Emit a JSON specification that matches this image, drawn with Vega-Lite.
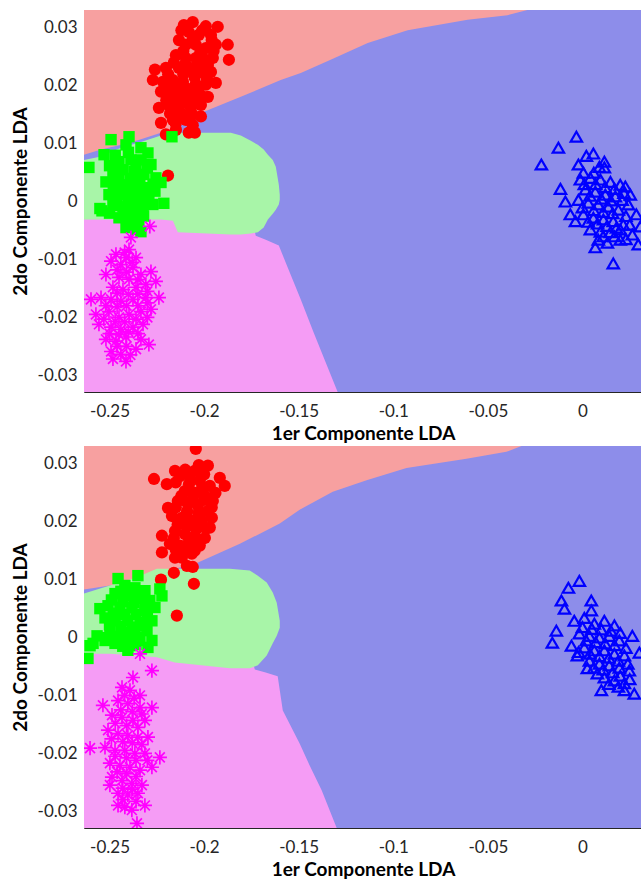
{
"$schema":"https://vega.github.io/schema/vega-lite/v6.json",
"padding":{"left":11,"top":10,"right":0,"bottom":0},
"background":"white",
"spacing":3,
"config":{"view":{"stroke":null},
"axis":{"domainColor":"#262626","tickColor":"#262626","labelColor":"#262626","titleColor":"#000000","labelFont":"Lato","titleFont":"Lato","labelFontSize":17,"titleFontSize":19,"titleFontWeight":"bold","grid":false,"tickSize":-5,"labelPadding":12},
"axisY":{"titlePadding":7},"axisX":{"titlePadding":5,"labelPadding":16}},
"datasets":{
"reg":[
{"p":1,"r":"b","x":-0.2635,"y":-0.0329,"y2":0.0331},{"p":1,"r":"b","x":0.0315,"y":-0.0329,"y2":0.0331},
{"p":2,"r":"b","x":-0.2635,"y":-0.0329,"y2":0.0331},{"p":2,"r":"b","x":0.0315,"y":-0.0329,"y2":0.0331},
{"p":1,"r":"r","x":-0.2635,"y":0.0081,"y2":0.0331},{"p":1,"r":"r","x":-0.2545,"y":0.0090,"y2":0.0331},{"p":1,"r":"r","x":-0.2387,"y":0.0102,"y2":0.0331},{"p":1,"r":"r","x":-0.2228,"y":0.0119,"y2":0.0331},{"p":1,"r":"r","x":-0.2149,"y":0.0128,"y2":0.0331},{"p":1,"r":"r","x":-0.2017,"y":0.0153,"y2":0.0331},{"p":1,"r":"r","x":-0.1806,"y":0.0181,"y2":0.0331},{"p":1,"r":"r","x":-0.1595,"y":0.0210,"y2":0.0331},{"p":1,"r":"r","x":-0.1489,"y":0.0222,"y2":0.0331},{"p":1,"r":"r","x":-0.1331,"y":0.0245,"y2":0.0331},{"p":1,"r":"r","x":-0.1135,"y":0.0274,"y2":0.0331},{"p":1,"r":"r","x":-0.0924,"y":0.0296,"y2":0.0331},{"p":1,"r":"r","x":-0.0607,"y":0.0314,"y2":0.0331},{"p":1,"r":"r","x":-0.0396,"y":0.0322,"y2":0.0331},{"p":1,"r":"r","x":-0.0291,"y":0.0331,"y2":0.0331},
{"p":1,"r":"m","x":-0.2635,"y":-0.0329,"y2":-0.0022},{"p":1,"r":"m","x":-0.1753,"y":-0.0329,"y2":-0.0022},{"p":1,"r":"m","x":-0.1727,"y":-0.0329,"y2":-0.0059},{"p":1,"r":"m","x":-0.1674,"y":-0.0329,"y2":-0.0066},{"p":1,"r":"m","x":-0.1605,"y":-0.0329,"y2":-0.0076},{"p":1,"r":"m","x":-0.1558,"y":-0.0329,"y2":-0.0114},{"p":1,"r":"m","x":-0.1489,"y":-0.0329,"y2":-0.0169},{"p":1,"r":"m","x":-0.1421,"y":-0.0329,"y2":-0.0226},{"p":1,"r":"m","x":-0.1357,"y":-0.0329,"y2":-0.0278},{"p":1,"r":"m","x":-0.1294,"y":-0.0329,"y2":-0.0329},
{"p":1,"r":"g","x":-0.2635,"y":-0.0031,"y2":0.0072},{"p":1,"r":"g","x":-0.2545,"y":-0.0031,"y2":0.0078},{"p":1,"r":"g","x":-0.2440,"y":-0.0031,"y2":0.0093},{"p":1,"r":"g","x":-0.2334,"y":-0.0031,"y2":0.0103},{"p":1,"r":"g","x":-0.2228,"y":-0.0031,"y2":0.0114},{"p":1,"r":"g","x":-0.2165,"y":-0.0033,"y2":0.0119},{"p":1,"r":"g","x":-0.2139,"y":-0.0053,"y2":0.0119},{"p":1,"r":"g","x":-0.1859,"y":-0.0057,"y2":0.0119},{"p":1,"r":"g","x":-0.1806,"y":-0.0057,"y2":0.0114},{"p":1,"r":"g","x":-0.1753,"y":-0.0055,"y2":0.0105},{"p":1,"r":"g","x":-0.1716,"y":-0.0053,"y2":0.0098},{"p":1,"r":"g","x":-0.1685,"y":-0.0045,"y2":0.0090},{"p":1,"r":"g","x":-0.1663,"y":-0.0031,"y2":0.0081},{"p":1,"r":"g","x":-0.1637,"y":-0.0021,"y2":0.0072},{"p":1,"r":"g","x":-0.1621,"y":-0.0014,"y2":0.0060},{"p":1,"r":"g","x":-0.1605,"y":-0.0005,"y2":0.0029},{"p":1,"r":"g","x":-0.1600,"y":0.0003,"y2":0.0012},
{"p":2,"r":"r","x":-0.2635,"y":0.0083,"y2":0.0331},{"p":2,"r":"r","x":-0.2498,"y":0.0090,"y2":0.0331},{"p":2,"r":"r","x":-0.2339,"y":0.0098,"y2":0.0331},{"p":2,"r":"r","x":-0.2234,"y":0.0112,"y2":0.0331},{"p":2,"r":"r","x":-0.2038,"y":0.0129,"y2":0.0331},{"p":2,"r":"r","x":-0.1811,"y":0.0162,"y2":0.0331},{"p":2,"r":"r","x":-0.1600,"y":0.0197,"y2":0.0331},{"p":2,"r":"r","x":-0.1495,"y":0.0221,"y2":0.0331},{"p":2,"r":"r","x":-0.1320,"y":0.0252,"y2":0.0331},{"p":2,"r":"r","x":-0.1141,"y":0.0272,"y2":0.0331},{"p":2,"r":"r","x":-0.0930,"y":0.0293,"y2":0.0331},{"p":2,"r":"r","x":-0.0613,"y":0.0309,"y2":0.0331},{"p":2,"r":"r","x":-0.0402,"y":0.0321,"y2":0.0331},{"p":2,"r":"r","x":-0.0322,"y":0.0331,"y2":0.0331},
{"p":2,"r":"m","x":-0.2635,"y":-0.0329,"y2":-0.0022},{"p":2,"r":"m","x":-0.1759,"y":-0.0329,"y2":-0.0022},{"p":2,"r":"m","x":-0.1732,"y":-0.0329,"y2":-0.0055},{"p":2,"r":"m","x":-0.1679,"y":-0.0329,"y2":-0.0060},{"p":2,"r":"m","x":-0.1611,"y":-0.0329,"y2":-0.0067},{"p":2,"r":"m","x":-0.1584,"y":-0.0329,"y2":-0.0126},{"p":2,"r":"m","x":-0.1495,"y":-0.0329,"y2":-0.0183},{"p":2,"r":"m","x":-0.1442,"y":-0.0329,"y2":-0.0221},{"p":2,"r":"m","x":-0.1378,"y":-0.0329,"y2":-0.0264},{"p":2,"r":"m","x":-0.1299,"y":-0.0329,"y2":-0.0329},
{"p":2,"r":"g","x":-0.2635,"y":-0.0028,"y2":0.0076},{"p":2,"r":"g","x":-0.2498,"y":-0.0028,"y2":0.0090},{"p":2,"r":"g","x":-0.2366,"y":-0.0031,"y2":0.0103},{"p":2,"r":"g","x":-0.2250,"y":-0.0034,"y2":0.0119},{"p":2,"r":"g","x":-0.2155,"y":-0.0043,"y2":0.0119},{"p":2,"r":"g","x":-0.1864,"y":-0.0053,"y2":0.0119},{"p":2,"r":"g","x":-0.1759,"y":-0.0053,"y2":0.0116},{"p":2,"r":"g","x":-0.1716,"y":-0.0048,"y2":0.0107},{"p":2,"r":"g","x":-0.1669,"y":-0.0031,"y2":0.0095},{"p":2,"r":"g","x":-0.1637,"y":-0.0010,"y2":0.0078},{"p":2,"r":"g","x":-0.1616,"y":0.0003,"y2":0.0060},{"p":2,"r":"g","x":-0.1600,"y":0.0017,"y2":0.0029}
],
"pts":[
{"p":1,"g":"r","x":-0.2107,"y":0.0305},{"p":1,"g":"r","x":-0.2060,"y":0.0310},{"p":1,"g":"r","x":-0.1991,"y":0.0303},{"p":1,"g":"r","x":-0.1928,"y":0.0302},{"p":1,"g":"r","x":-0.2081,"y":0.0293},{"p":1,"g":"r","x":-0.2028,"y":0.0288},{"p":1,"g":"r","x":-0.1964,"y":0.0288},{"p":1,"g":"r","x":-0.2133,"y":0.0279},{"p":1,"g":"r","x":-0.1875,"y":0.0271},{"p":1,"g":"r","x":-0.2096,"y":0.0271},{"p":1,"g":"r","x":-0.2044,"y":0.0271},{"p":1,"g":"r","x":-0.1991,"y":0.0265},{"p":1,"g":"r","x":-0.1938,"y":0.0271},{"p":1,"g":"r","x":-0.1869,"y":0.0245},{"p":1,"g":"r","x":-0.2149,"y":0.0253},{"p":1,"g":"r","x":-0.2096,"y":0.0248},{"p":1,"g":"r","x":-0.2044,"y":0.0248},{"p":1,"g":"r","x":-0.1991,"y":0.0245},{"p":1,"g":"r","x":-0.1954,"y":0.0248},{"p":1,"g":"r","x":-0.2260,"y":0.0228},{"p":1,"g":"r","x":-0.2202,"y":0.0231},{"p":1,"g":"r","x":-0.2133,"y":0.0231},{"p":1,"g":"r","x":-0.2070,"y":0.0228},{"p":1,"g":"r","x":-0.2017,"y":0.0224},{"p":1,"g":"r","x":-0.1964,"y":0.0224},{"p":1,"g":"r","x":-0.2271,"y":0.0210},{"p":1,"g":"r","x":-0.2218,"y":0.0207},{"p":1,"g":"r","x":-0.2165,"y":0.0210},{"p":1,"g":"r","x":-0.2112,"y":0.0207},{"p":1,"g":"r","x":-0.2044,"y":0.0203},{"p":1,"g":"r","x":-0.1991,"y":0.0202},{"p":1,"g":"r","x":-0.1938,"y":0.0205},{"p":1,"g":"r","x":-0.2228,"y":0.0190},{"p":1,"g":"r","x":-0.2176,"y":0.0184},{"p":1,"g":"r","x":-0.2123,"y":0.0188},{"p":1,"g":"r","x":-0.2070,"y":0.0184},{"p":1,"g":"r","x":-0.2017,"y":0.0183},{"p":1,"g":"r","x":-0.1980,"y":0.0181},{"p":1,"g":"r","x":-0.2239,"y":0.0162},{"p":1,"g":"r","x":-0.2186,"y":0.0166},{"p":1,"g":"r","x":-0.2133,"y":0.0162},{"p":1,"g":"r","x":-0.2070,"y":0.0162},{"p":1,"g":"r","x":-0.2017,"y":0.0167},{"p":1,"g":"r","x":-0.2017,"y":0.0147},{"p":1,"g":"r","x":-0.2228,"y":0.0136},{"p":1,"g":"r","x":-0.2165,"y":0.0141},{"p":1,"g":"r","x":-0.2096,"y":0.0141},{"p":1,"g":"r","x":-0.2202,"y":0.0116},{"p":1,"g":"r","x":-0.2149,"y":0.0124},{"p":1,"g":"r","x":-0.2081,"y":0.0119},{"p":1,"g":"r","x":-0.2049,"y":0.0119},{"p":1,"g":"r","x":-0.2191,"y":0.0045},
{"p":1,"g":"r","x":-0.2120,"y":0.0296},{"p":1,"g":"r","x":-0.2010,"y":0.0296},{"p":1,"g":"r","x":-0.1960,"y":0.0279},{"p":1,"g":"r","x":-0.2060,"y":0.0280},{"p":1,"g":"r","x":-0.2110,"y":0.0260},{"p":1,"g":"r","x":-0.2020,"y":0.0258},{"p":1,"g":"r","x":-0.1950,"y":0.0260},{"p":1,"g":"r","x":-0.2160,"y":0.0240},{"p":1,"g":"r","x":-0.2100,"y":0.0238},{"p":1,"g":"r","x":-0.2040,"y":0.0236},{"p":1,"g":"r","x":-0.1980,"y":0.0236},{"p":1,"g":"r","x":-0.2190,"y":0.0220},{"p":1,"g":"r","x":-0.2110,"y":0.0220},{"p":1,"g":"r","x":-0.2050,"y":0.0215},{"p":1,"g":"r","x":-0.1985,"y":0.0212},{"p":1,"g":"r","x":-0.2200,"y":0.0197},{"p":1,"g":"r","x":-0.2140,"y":0.0197},{"p":1,"g":"r","x":-0.2090,"y":0.0195},{"p":1,"g":"r","x":-0.2030,"y":0.0193},{"p":1,"g":"r","x":-0.2200,"y":0.0175},{"p":1,"g":"r","x":-0.2150,"y":0.0175},{"p":1,"g":"r","x":-0.2100,"y":0.0172},{"p":1,"g":"r","x":-0.2040,"y":0.0172},{"p":1,"g":"r","x":-0.2180,"y":0.0152},{"p":1,"g":"r","x":-0.2120,"y":0.0152},{"p":1,"g":"r","x":-0.2060,"y":0.0150},{"p":1,"g":"r","x":-0.2150,"y":0.0135},{"p":1,"g":"r","x":-0.2060,"y":0.0132},
{"p":1,"g":"g","x":-0.2609,"y":0.0059},{"p":1,"g":"g","x":-0.2529,"y":0.0081},{"p":1,"g":"g","x":-0.2492,"y":0.0107},{"p":1,"g":"g","x":-0.2397,"y":0.0112},{"p":1,"g":"g","x":-0.2413,"y":0.0098},{"p":1,"g":"g","x":-0.2170,"y":0.0112},{"p":1,"g":"g","x":-0.2334,"y":0.0093},{"p":1,"g":"g","x":-0.2297,"y":0.0084},{"p":1,"g":"g","x":-0.2450,"y":0.0069},{"p":1,"g":"g","x":-0.2387,"y":0.0072},{"p":1,"g":"g","x":-0.2334,"y":0.0072},{"p":1,"g":"g","x":-0.2281,"y":0.0064},{"p":1,"g":"g","x":-0.2482,"y":0.0052},{"p":1,"g":"g","x":-0.2429,"y":0.0055},{"p":1,"g":"g","x":-0.2371,"y":0.0052},{"p":1,"g":"g","x":-0.2318,"y":0.0047},{"p":1,"g":"g","x":-0.2255,"y":0.0041},{"p":1,"g":"g","x":-0.2228,"y":0.0033},{"p":1,"g":"g","x":-0.2519,"y":0.0034},{"p":1,"g":"g","x":-0.2466,"y":0.0033},{"p":1,"g":"g","x":-0.2413,"y":0.0029},{"p":1,"g":"g","x":-0.2360,"y":0.0029},{"p":1,"g":"g","x":-0.2308,"y":0.0024},{"p":1,"g":"g","x":-0.2503,"y":0.0012},{"p":1,"g":"g","x":-0.2450,"y":0.0012},{"p":1,"g":"g","x":-0.2397,"y":0.0010},{"p":1,"g":"g","x":-0.2345,"y":0.0007},{"p":1,"g":"g","x":-0.2292,"y":0.0012},{"p":1,"g":"g","x":-0.2213,"y":-0.0003},{"p":1,"g":"g","x":-0.2540,"y":-0.0016},{"p":1,"g":"g","x":-0.2482,"y":-0.0007},{"p":1,"g":"g","x":-0.2429,"y":-0.0009},{"p":1,"g":"g","x":-0.2376,"y":-0.0010},{"p":1,"g":"g","x":-0.2323,"y":-0.0014},{"p":1,"g":"g","x":-0.2271,"y":-0.0005},{"p":1,"g":"g","x":-0.2450,"y":-0.0028},{"p":1,"g":"g","x":-0.2397,"y":-0.0031},{"p":1,"g":"g","x":-0.2345,"y":-0.0034},{"p":1,"g":"g","x":-0.2360,"y":-0.0048},{"p":1,"g":"g","x":-0.2334,"y":-0.0052},{"p":1,"g":"g","x":-0.2413,"y":-0.0045},{"p":1,"g":"g","x":-0.2551,"y":-0.0012},
{"p":1,"g":"g","x":-0.2470,"y":0.0080},{"p":1,"g":"g","x":-0.2400,"y":0.0085},{"p":1,"g":"g","x":-0.2360,"y":0.0065},{"p":1,"g":"g","x":-0.2300,"y":0.0058},{"p":1,"g":"g","x":-0.2500,"y":0.0062},{"p":1,"g":"g","x":-0.2450,"y":0.0042},{"p":1,"g":"g","x":-0.2390,"y":0.0040},{"p":1,"g":"g","x":-0.2340,"y":0.0037},{"p":1,"g":"g","x":-0.2270,"y":0.0030},{"p":1,"g":"g","x":-0.2480,"y":0.0020},{"p":1,"g":"g","x":-0.2420,"y":0.0019},{"p":1,"g":"g","x":-0.2370,"y":0.0018},{"p":1,"g":"g","x":-0.2320,"y":0.0016},{"p":1,"g":"g","x":-0.2260,"y":0.0018},{"p":1,"g":"g","x":-0.2460,"y":0.0000},{"p":1,"g":"g","x":-0.2400,"y":-0.0001},{"p":1,"g":"g","x":-0.2350,"y":-0.0002},{"p":1,"g":"g","x":-0.2300,"y":0.0002},{"p":1,"g":"g","x":-0.2420,"y":-0.0020},{"p":1,"g":"g","x":-0.2370,"y":-0.0022},{"p":1,"g":"g","x":-0.2320,"y":-0.0025},{"p":1,"g":"g","x":-0.2380,"y":-0.0040},{"p":1,"g":"g","x":-0.2500,"y":-0.0020},
{"p":1,"g":"m","x":-0.2287,"y":-0.0043},{"p":1,"g":"m","x":-0.2387,"y":-0.0062},{"p":1,"g":"m","x":-0.2397,"y":-0.0083},{"p":1,"g":"m","x":-0.2466,"y":-0.0091},{"p":1,"g":"m","x":-0.2413,"y":-0.0097},{"p":1,"g":"m","x":-0.2360,"y":-0.0097},{"p":1,"g":"m","x":-0.2492,"y":-0.0103},{"p":1,"g":"m","x":-0.2440,"y":-0.0109},{"p":1,"g":"m","x":-0.2376,"y":-0.0114},{"p":1,"g":"m","x":-0.2519,"y":-0.0126},{"p":1,"g":"m","x":-0.2450,"y":-0.0131},{"p":1,"g":"m","x":-0.2397,"y":-0.0134},{"p":1,"g":"m","x":-0.2334,"y":-0.0126},{"p":1,"g":"m","x":-0.2281,"y":-0.0121},{"p":1,"g":"m","x":-0.2482,"y":-0.0148},{"p":1,"g":"m","x":-0.2429,"y":-0.0152},{"p":1,"g":"m","x":-0.2360,"y":-0.0148},{"p":1,"g":"m","x":-0.2308,"y":-0.0143},{"p":1,"g":"m","x":-0.2255,"y":-0.0138},{"p":1,"g":"m","x":-0.2598,"y":-0.0169},{"p":1,"g":"m","x":-0.2545,"y":-0.0166},{"p":1,"g":"m","x":-0.2492,"y":-0.0169},{"p":1,"g":"m","x":-0.2440,"y":-0.0172},{"p":1,"g":"m","x":-0.2376,"y":-0.0169},{"p":1,"g":"m","x":-0.2308,"y":-0.0166},{"p":1,"g":"m","x":-0.2239,"y":-0.0166},{"p":1,"g":"m","x":-0.2572,"y":-0.0195},{"p":1,"g":"m","x":-0.2503,"y":-0.0190},{"p":1,"g":"m","x":-0.2450,"y":-0.0200},{"p":1,"g":"m","x":-0.2397,"y":-0.0195},{"p":1,"g":"m","x":-0.2334,"y":-0.0190},{"p":1,"g":"m","x":-0.2281,"y":-0.0186},{"p":1,"g":"m","x":-0.2556,"y":-0.0212},{"p":1,"g":"m","x":-0.2492,"y":-0.0217},{"p":1,"g":"m","x":-0.2440,"y":-0.0221},{"p":1,"g":"m","x":-0.2376,"y":-0.0217},{"p":1,"g":"m","x":-0.2323,"y":-0.0212},{"p":1,"g":"m","x":-0.2519,"y":-0.0238},{"p":1,"g":"m","x":-0.2466,"y":-0.0241},{"p":1,"g":"m","x":-0.2413,"y":-0.0234},{"p":1,"g":"m","x":-0.2334,"y":-0.0238},{"p":1,"g":"m","x":-0.2292,"y":-0.0247},{"p":1,"g":"m","x":-0.2492,"y":-0.0259},{"p":1,"g":"m","x":-0.2440,"y":-0.0264},{"p":1,"g":"m","x":-0.2360,"y":-0.0255},{"p":1,"g":"m","x":-0.2482,"y":-0.0272},{"p":1,"g":"m","x":-0.2413,"y":-0.0276},
{"p":1,"g":"m","x":-0.2420,"y":-0.0088},{"p":1,"g":"m","x":-0.2380,"y":-0.0105},{"p":1,"g":"m","x":-0.2460,"y":-0.0118},{"p":1,"g":"m","x":-0.2410,"y":-0.0122},{"p":1,"g":"m","x":-0.2350,"y":-0.0135},{"p":1,"g":"m","x":-0.2300,"y":-0.0155},{"p":1,"g":"m","x":-0.2460,"y":-0.0158},{"p":1,"g":"m","x":-0.2400,"y":-0.0160},{"p":1,"g":"m","x":-0.2350,"y":-0.0160},{"p":1,"g":"m","x":-0.2520,"y":-0.0180},{"p":1,"g":"m","x":-0.2460,"y":-0.0182},{"p":1,"g":"m","x":-0.2410,"y":-0.0180},{"p":1,"g":"m","x":-0.2350,"y":-0.0180},{"p":1,"g":"m","x":-0.2300,"y":-0.0175},{"p":1,"g":"m","x":-0.2530,"y":-0.0203},{"p":1,"g":"m","x":-0.2470,"y":-0.0207},{"p":1,"g":"m","x":-0.2420,"y":-0.0208},{"p":1,"g":"m","x":-0.2360,"y":-0.0203},{"p":1,"g":"m","x":-0.2300,"y":-0.0200},{"p":1,"g":"m","x":-0.2500,"y":-0.0228},{"p":1,"g":"m","x":-0.2450,"y":-0.0230},{"p":1,"g":"m","x":-0.2400,"y":-0.0225},{"p":1,"g":"m","x":-0.2350,"y":-0.0228},{"p":1,"g":"m","x":-0.2460,"y":-0.0250},{"p":1,"g":"m","x":-0.2410,"y":-0.0250},{"p":1,"g":"m","x":-0.2390,"y":-0.0265},
{"p":1,"g":"b","x":-0.0032,"y":0.0112},{"p":1,"g":"b","x":-0.0127,"y":0.0093},{"p":1,"g":"b","x":-0.0217,"y":0.0064},{"p":1,"g":"b","x":0.0021,"y":0.0079},{"p":1,"g":"b","x":0.0058,"y":0.0083},{"p":1,"g":"b","x":0.0116,"y":0.0069},{"p":1,"g":"b","x":-0.0021,"y":0.0064},{"p":1,"g":"b","x":0.0116,"y":0.0059},{"p":1,"g":"b","x":0.0005,"y":0.0050},{"p":1,"g":"b","x":-0.0116,"y":0.0022},{"p":1,"g":"b","x":-0.0090,"y":0.0000},{"p":1,"g":"b","x":-0.0064,"y":-0.0022},{"p":1,"g":"b","x":0.0068,"y":-0.0079},{"p":1,"g":"b","x":0.0163,"y":-0.0107},{"p":1,"g":"b","x":0.0227,"y":0.0026},{"p":1,"g":"b","x":0.0253,"y":0.0012},{"p":1,"g":"b","x":0.0295,"y":-0.0074},{"p":1,"g":"b","x":0.0132,"y":-0.0071},{"p":1,"g":"b","x":0.0200,"y":-0.0066},{"p":1,"g":"b","x":0.0306,"y":-0.0043},{"p":1,"g":"b","x":-0.0011,"y":0.0038},{"p":1,"g":"b","x":0.0042,"y":0.0041},{"p":1,"g":"b","x":0.0095,"y":0.0038},{"p":1,"g":"b","x":0.0148,"y":0.0034},{"p":1,"g":"b","x":0.0200,"y":0.0029},{"p":1,"g":"b","x":0.0016,"y":0.0021},{"p":1,"g":"b","x":0.0068,"y":0.0017},{"p":1,"g":"b","x":0.0121,"y":0.0012},{"p":1,"g":"b","x":0.0174,"y":0.0009},{"p":1,"g":"b","x":-0.0021,"y":0.0003},{"p":1,"g":"b","x":0.0031,"y":-0.0002},{"p":1,"g":"b","x":0.0084,"y":-0.0005},{"p":1,"g":"b","x":0.0137,"y":-0.0009},{"p":1,"g":"b","x":0.0190,"y":-0.0014},{"p":1,"g":"b","x":0.0243,"y":-0.0005},{"p":1,"g":"b","x":0.0005,"y":-0.0022},{"p":1,"g":"b","x":0.0058,"y":-0.0028},{"p":1,"g":"b","x":0.0111,"y":-0.0031},{"p":1,"g":"b","x":0.0163,"y":-0.0034},{"p":1,"g":"b","x":0.0216,"y":-0.0040},{"p":1,"g":"b","x":0.0042,"y":-0.0048},{"p":1,"g":"b","x":0.0095,"y":-0.0052},{"p":1,"g":"b","x":0.0148,"y":-0.0053},{"p":1,"g":"b","x":0.0200,"y":-0.0048},{"p":1,"g":"b","x":0.0264,"y":-0.0057},{"p":1,"g":"b","x":0.0084,"y":-0.0066},{"p":1,"g":"b","x":-0.0037,"y":-0.0034},{"p":1,"g":"b","x":0.0285,"y":-0.0022},
{"p":1,"g":"b","x":0.0010,"y":0.0030},{"p":1,"g":"b","x":0.0070,"y":0.0030},{"p":1,"g":"b","x":0.0120,"y":0.0025},{"p":1,"g":"b","x":0.0170,"y":0.0022},{"p":1,"g":"b","x":0.0220,"y":0.0015},{"p":1,"g":"b","x":0.0040,"y":0.0010},{"p":1,"g":"b","x":0.0100,"y":0.0005},{"p":1,"g":"b","x":0.0150,"y":0.0002},{"p":1,"g":"b","x":0.0210,"y":0.0003},{"p":1,"g":"b","x":0.0000,"y":-0.0010},{"p":1,"g":"b","x":0.0060,"y":-0.0015},{"p":1,"g":"b","x":0.0110,"y":-0.0018},{"p":1,"g":"b","x":0.0160,"y":-0.0020},{"p":1,"g":"b","x":0.0230,"y":-0.0025},{"p":1,"g":"b","x":0.0030,"y":-0.0035},{"p":1,"g":"b","x":0.0080,"y":-0.0038},{"p":1,"g":"b","x":0.0130,"y":-0.0042},{"p":1,"g":"b","x":0.0180,"y":-0.0045},{"p":1,"g":"b","x":0.0250,"y":-0.0040},{"p":1,"g":"b","x":0.0110,"y":-0.0060},{"p":1,"g":"b","x":0.0170,"y":-0.0060},{"p":1,"g":"b","x":0.0230,"y":-0.0065},{"p":1,"g":"b","x":0.0060,"y":0.0050},{"p":1,"g":"b","x":0.0090,"y":0.0060},
{"p":2,"g":"r","x":-0.2044,"y":0.0326},{"p":2,"g":"r","x":-0.2028,"y":0.0298},{"p":2,"g":"r","x":-0.1980,"y":0.0297},{"p":2,"g":"r","x":-0.2265,"y":0.0274},{"p":2,"g":"r","x":-0.2154,"y":0.0288},{"p":2,"g":"r","x":-0.1917,"y":0.0276},{"p":2,"g":"r","x":-0.1891,"y":0.0262},{"p":2,"g":"r","x":-0.2197,"y":0.0265},{"p":2,"g":"r","x":-0.2191,"y":0.0224},{"p":2,"g":"r","x":-0.1954,"y":0.0236},{"p":2,"g":"r","x":-0.2223,"y":0.0176},{"p":2,"g":"r","x":-0.1970,"y":0.0190},{"p":2,"g":"r","x":-0.2223,"y":0.0147},{"p":2,"g":"r","x":-0.2154,"y":0.0138},{"p":2,"g":"r","x":-0.2065,"y":0.0145},{"p":2,"g":"r","x":-0.2060,"y":0.0122},{"p":2,"g":"r","x":-0.2160,"y":0.0112},{"p":2,"g":"r","x":-0.2228,"y":0.0100},{"p":2,"g":"r","x":-0.2054,"y":0.0093},{"p":2,"g":"r","x":-0.2144,"y":0.0038},{"p":2,"g":"r","x":-0.2128,"y":0.0279},{"p":2,"g":"r","x":-0.2075,"y":0.0276},{"p":2,"g":"r","x":-0.2023,"y":0.0271},{"p":2,"g":"r","x":-0.1970,"y":0.0262},{"p":2,"g":"r","x":-0.2102,"y":0.0253},{"p":2,"g":"r","x":-0.2049,"y":0.0250},{"p":2,"g":"r","x":-0.1996,"y":0.0245},{"p":2,"g":"r","x":-0.2139,"y":0.0236},{"p":2,"g":"r","x":-0.2086,"y":0.0231},{"p":2,"g":"r","x":-0.2033,"y":0.0228},{"p":2,"g":"r","x":-0.1980,"y":0.0219},{"p":2,"g":"r","x":-0.2170,"y":0.0210},{"p":2,"g":"r","x":-0.2118,"y":0.0207},{"p":2,"g":"r","x":-0.2065,"y":0.0202},{"p":2,"g":"r","x":-0.2012,"y":0.0202},{"p":2,"g":"r","x":-0.1959,"y":0.0207},{"p":2,"g":"r","x":-0.2154,"y":0.0184},{"p":2,"g":"r","x":-0.2102,"y":0.0179},{"p":2,"g":"r","x":-0.2049,"y":0.0176},{"p":2,"g":"r","x":-0.1996,"y":0.0172},{"p":2,"g":"r","x":-0.2181,"y":0.0162},{"p":2,"g":"r","x":-0.2128,"y":0.0159},{"p":2,"g":"r","x":-0.2075,"y":0.0162},{"p":2,"g":"r","x":-0.2023,"y":0.0159},{"p":2,"g":"r","x":-0.2118,"y":0.0138},{"p":2,"g":"r","x":-0.2091,"y":0.0124},
{"p":2,"g":"r","x":-0.2100,"y":0.0290},{"p":2,"g":"r","x":-0.2050,"y":0.0288},{"p":2,"g":"r","x":-0.2000,"y":0.0282},{"p":2,"g":"r","x":-0.2150,"y":0.0268},{"p":2,"g":"r","x":-0.2080,"y":0.0265},{"p":2,"g":"r","x":-0.2010,"y":0.0260},{"p":2,"g":"r","x":-0.1940,"y":0.0250},{"p":2,"g":"r","x":-0.2120,"y":0.0245},{"p":2,"g":"r","x":-0.2060,"y":0.0240},{"p":2,"g":"r","x":-0.2000,"y":0.0238},{"p":2,"g":"r","x":-0.2150,"y":0.0225},{"p":2,"g":"r","x":-0.2090,"y":0.0218},{"p":2,"g":"r","x":-0.2030,"y":0.0215},{"p":2,"g":"r","x":-0.1960,"y":0.0225},{"p":2,"g":"r","x":-0.2140,"y":0.0195},{"p":2,"g":"r","x":-0.2090,"y":0.0192},{"p":2,"g":"r","x":-0.2040,"y":0.0188},{"p":2,"g":"r","x":-0.1990,"y":0.0188},{"p":2,"g":"r","x":-0.2160,"y":0.0172},{"p":2,"g":"r","x":-0.2080,"y":0.0170},{"p":2,"g":"r","x":-0.2020,"y":0.0168},{"p":2,"g":"r","x":-0.2150,"y":0.0152},{"p":2,"g":"r","x":-0.2100,"y":0.0150},{"p":2,"g":"r","x":-0.2050,"y":0.0150},
{"p":2,"g":"g","x":-0.2455,"y":0.0102},{"p":2,"g":"g","x":-0.2350,"y":0.0107},{"p":2,"g":"g","x":-0.2234,"y":0.0084},{"p":2,"g":"g","x":-0.2223,"y":0.0072},{"p":2,"g":"g","x":-0.2551,"y":0.0050},{"p":2,"g":"g","x":-0.2566,"y":0.0003},{"p":2,"g":"g","x":-0.2603,"y":-0.0014},{"p":2,"g":"g","x":-0.2614,"y":-0.0036},{"p":2,"g":"g","x":-0.2587,"y":-0.0010},{"p":2,"g":"g","x":-0.2276,"y":-0.0005},{"p":2,"g":"g","x":-0.2419,"y":-0.0009},{"p":2,"g":"g","x":-0.2419,"y":0.0090},{"p":2,"g":"g","x":-0.2366,"y":0.0086},{"p":2,"g":"g","x":-0.2313,"y":0.0081},{"p":2,"g":"g","x":-0.2471,"y":0.0076},{"p":2,"g":"g","x":-0.2403,"y":0.0072},{"p":2,"g":"g","x":-0.2339,"y":0.0067},{"p":2,"g":"g","x":-0.2287,"y":0.0064},{"p":2,"g":"g","x":-0.2508,"y":0.0055},{"p":2,"g":"g","x":-0.2445,"y":0.0052},{"p":2,"g":"g","x":-0.2382,"y":0.0052},{"p":2,"g":"g","x":-0.2313,"y":0.0047},{"p":2,"g":"g","x":-0.2260,"y":0.0052},{"p":2,"g":"g","x":-0.2524,"y":0.0034},{"p":2,"g":"g","x":-0.2471,"y":0.0029},{"p":2,"g":"g","x":-0.2403,"y":0.0029},{"p":2,"g":"g","x":-0.2339,"y":0.0026},{"p":2,"g":"g","x":-0.2276,"y":0.0029},{"p":2,"g":"g","x":-0.2498,"y":0.0012},{"p":2,"g":"g","x":-0.2434,"y":0.0009},{"p":2,"g":"g","x":-0.2366,"y":0.0007},{"p":2,"g":"g","x":-0.2302,"y":0.0012},{"p":2,"g":"g","x":-0.2471,"y":-0.0010},{"p":2,"g":"g","x":-0.2392,"y":-0.0014},{"p":2,"g":"g","x":-0.2339,"y":-0.0005},{"p":2,"g":"g","x":-0.2403,"y":-0.0022},{"p":2,"g":"g","x":-0.2524,"y":-0.0005},{"p":2,"g":"g","x":-0.2297,"y":-0.0017},
{"p":2,"g":"g","x":-0.2440,"y":0.0080},{"p":2,"g":"g","x":-0.2390,"y":0.0078},{"p":2,"g":"g","x":-0.2330,"y":0.0075},{"p":2,"g":"g","x":-0.2490,"y":0.0065},{"p":2,"g":"g","x":-0.2430,"y":0.0062},{"p":2,"g":"g","x":-0.2370,"y":0.0060},{"p":2,"g":"g","x":-0.2310,"y":0.0057},{"p":2,"g":"g","x":-0.2480,"y":0.0042},{"p":2,"g":"g","x":-0.2420,"y":0.0040},{"p":2,"g":"g","x":-0.2360,"y":0.0040},{"p":2,"g":"g","x":-0.2300,"y":0.0036},{"p":2,"g":"g","x":-0.2500,"y":0.0022},{"p":2,"g":"g","x":-0.2440,"y":0.0020},{"p":2,"g":"g","x":-0.2380,"y":0.0018},{"p":2,"g":"g","x":-0.2320,"y":0.0020},{"p":2,"g":"g","x":-0.2460,"y":0.0002},{"p":2,"g":"g","x":-0.2400,"y":0.0000},{"p":2,"g":"g","x":-0.2350,"y":0.0000},{"p":2,"g":"g","x":-0.2430,"y":-0.0015},{"p":2,"g":"g","x":-0.2360,"y":-0.0012},{"p":2,"g":"g","x":-0.2510,"y":0.0000},
{"p":2,"g":"m","x":-0.2339,"y":-0.0028},{"p":2,"g":"m","x":-0.2276,"y":-0.0057},{"p":2,"g":"m","x":-0.2376,"y":-0.0069},{"p":2,"g":"m","x":-0.2434,"y":-0.0086},{"p":2,"g":"m","x":-0.2535,"y":-0.0117},{"p":2,"g":"m","x":-0.2603,"y":-0.0191},{"p":2,"g":"m","x":-0.2234,"y":-0.0207},{"p":2,"g":"m","x":-0.2297,"y":-0.0172},{"p":2,"g":"m","x":-0.2276,"y":-0.0121},{"p":2,"g":"m","x":-0.2498,"y":-0.0255},{"p":2,"g":"m","x":-0.2455,"y":-0.0290},{"p":2,"g":"m","x":-0.2313,"y":-0.0290},{"p":2,"g":"m","x":-0.2355,"y":-0.0321},{"p":2,"g":"m","x":-0.2392,"y":-0.0091},{"p":2,"g":"m","x":-0.2339,"y":-0.0100},{"p":2,"g":"m","x":-0.2455,"y":-0.0109},{"p":2,"g":"m","x":-0.2403,"y":-0.0114},{"p":2,"g":"m","x":-0.2339,"y":-0.0121},{"p":2,"g":"m","x":-0.2487,"y":-0.0134},{"p":2,"g":"m","x":-0.2434,"y":-0.0138},{"p":2,"g":"m","x":-0.2376,"y":-0.0143},{"p":2,"g":"m","x":-0.2313,"y":-0.0143},{"p":2,"g":"m","x":-0.2508,"y":-0.0160},{"p":2,"g":"m","x":-0.2455,"y":-0.0166},{"p":2,"g":"m","x":-0.2403,"y":-0.0169},{"p":2,"g":"m","x":-0.2350,"y":-0.0172},{"p":2,"g":"m","x":-0.2524,"y":-0.0190},{"p":2,"g":"m","x":-0.2471,"y":-0.0195},{"p":2,"g":"m","x":-0.2419,"y":-0.0195},{"p":2,"g":"m","x":-0.2366,"y":-0.0200},{"p":2,"g":"m","x":-0.2313,"y":-0.0200},{"p":2,"g":"m","x":-0.2498,"y":-0.0217},{"p":2,"g":"m","x":-0.2445,"y":-0.0221},{"p":2,"g":"m","x":-0.2392,"y":-0.0224},{"p":2,"g":"m","x":-0.2339,"y":-0.0229},{"p":2,"g":"m","x":-0.2276,"y":-0.0224},{"p":2,"g":"m","x":-0.2487,"y":-0.0241},{"p":2,"g":"m","x":-0.2434,"y":-0.0247},{"p":2,"g":"m","x":-0.2382,"y":-0.0252},{"p":2,"g":"m","x":-0.2329,"y":-0.0255},{"p":2,"g":"m","x":-0.2455,"y":-0.0269},{"p":2,"g":"m","x":-0.2403,"y":-0.0272},{"p":2,"g":"m","x":-0.2350,"y":-0.0269},{"p":2,"g":"m","x":-0.2419,"y":-0.0293},{"p":2,"g":"m","x":-0.2382,"y":-0.0298},
{"p":2,"g":"m","x":-0.2420,"y":-0.0100},{"p":2,"g":"m","x":-0.2370,"y":-0.0105},{"p":2,"g":"m","x":-0.2440,"y":-0.0125},{"p":2,"g":"m","x":-0.2380,"y":-0.0128},{"p":2,"g":"m","x":-0.2330,"y":-0.0132},{"p":2,"g":"m","x":-0.2470,"y":-0.0148},{"p":2,"g":"m","x":-0.2410,"y":-0.0152},{"p":2,"g":"m","x":-0.2350,"y":-0.0155},{"p":2,"g":"m","x":-0.2490,"y":-0.0175},{"p":2,"g":"m","x":-0.2430,"y":-0.0180},{"p":2,"g":"m","x":-0.2380,"y":-0.0182},{"p":2,"g":"m","x":-0.2330,"y":-0.0185},{"p":2,"g":"m","x":-0.2470,"y":-0.0205},{"p":2,"g":"m","x":-0.2410,"y":-0.0208},{"p":2,"g":"m","x":-0.2360,"y":-0.0212},{"p":2,"g":"m","x":-0.2300,"y":-0.0212},{"p":2,"g":"m","x":-0.2460,"y":-0.0232},{"p":2,"g":"m","x":-0.2410,"y":-0.0235},{"p":2,"g":"m","x":-0.2360,"y":-0.0240},{"p":2,"g":"m","x":-0.2430,"y":-0.0260},{"p":2,"g":"m","x":-0.2380,"y":-0.0262},{"p":2,"g":"m","x":-0.2430,"y":-0.0280},{"p":2,"g":"m","x":-0.2360,"y":-0.0283},
{"p":2,"g":"b","x":-0.0016,"y":0.0098},{"p":2,"g":"b","x":-0.0074,"y":0.0086},{"p":2,"g":"b","x":-0.0111,"y":0.0064},{"p":2,"g":"b","x":0.0047,"y":0.0064},{"p":2,"g":"b","x":0.0047,"y":0.0047},{"p":2,"g":"b","x":-0.0095,"y":0.0050},{"p":2,"g":"b","x":-0.0159,"y":-0.0009},{"p":2,"g":"b","x":-0.0138,"y":0.0012},{"p":2,"g":"b","x":0.0264,"y":0.0003},{"p":2,"g":"b","x":0.0301,"y":-0.0026},{"p":2,"g":"b","x":0.0100,"y":-0.0091},{"p":2,"g":"b","x":0.0274,"y":-0.0097},{"p":2,"g":"b","x":0.0026,"y":-0.0053},{"p":2,"g":"b","x":0.0222,"y":-0.0091},{"p":2,"g":"b","x":-0.0043,"y":0.0029},{"p":2,"g":"b","x":0.0010,"y":0.0034},{"p":2,"g":"b","x":0.0063,"y":0.0024},{"p":2,"g":"b","x":0.0116,"y":0.0029},{"p":2,"g":"b","x":0.0169,"y":0.0021},{"p":2,"g":"b","x":-0.0016,"y":0.0007},{"p":2,"g":"b","x":0.0037,"y":0.0003},{"p":2,"g":"b","x":0.0090,"y":0.0000},{"p":2,"g":"b","x":0.0142,"y":0.0003},{"p":2,"g":"b","x":0.0195,"y":-0.0005},{"p":2,"g":"b","x":-0.0058,"y":-0.0014},{"p":2,"g":"b","x":0.0010,"y":-0.0017},{"p":2,"g":"b","x":0.0063,"y":-0.0022},{"p":2,"g":"b","x":0.0116,"y":-0.0022},{"p":2,"g":"b","x":0.0169,"y":-0.0028},{"p":2,"g":"b","x":0.0222,"y":-0.0031},{"p":2,"g":"b","x":0.0037,"y":-0.0040},{"p":2,"g":"b","x":0.0090,"y":-0.0045},{"p":2,"g":"b","x":0.0142,"y":-0.0048},{"p":2,"g":"b","x":0.0195,"y":-0.0052},{"p":2,"g":"b","x":0.0248,"y":-0.0057},{"p":2,"g":"b","x":0.0116,"y":-0.0069},{"p":2,"g":"b","x":0.0169,"y":-0.0074},{"p":2,"g":"b","x":0.0222,"y":-0.0079},{"p":2,"g":"b","x":0.0079,"y":-0.0062},{"p":2,"g":"b","x":-0.0027,"y":-0.0031},
{"p":2,"g":"b","x":0.0000,"y":0.0018},{"p":2,"g":"b","x":0.0050,"y":0.0015},{"p":2,"g":"b","x":0.0100,"y":0.0014},{"p":2,"g":"b","x":0.0150,"y":0.0012},{"p":2,"g":"b","x":0.0200,"y":0.0008},{"p":2,"g":"b","x":0.0020,"y":-0.0005},{"p":2,"g":"b","x":0.0070,"y":-0.0008},{"p":2,"g":"b","x":0.0120,"y":-0.0010},{"p":2,"g":"b","x":0.0170,"y":-0.0013},{"p":2,"g":"b","x":0.0230,"y":-0.0018},{"p":2,"g":"b","x":-0.0020,"y":-0.0025},{"p":2,"g":"b","x":0.0040,"y":-0.0028},{"p":2,"g":"b","x":0.0090,"y":-0.0032},{"p":2,"g":"b","x":0.0140,"y":-0.0035},{"p":2,"g":"b","x":0.0190,"y":-0.0040},{"p":2,"g":"b","x":0.0240,"y":-0.0045},{"p":2,"g":"b","x":0.0060,"y":-0.0052},{"p":2,"g":"b","x":0.0110,"y":-0.0055},{"p":2,"g":"b","x":0.0160,"y":-0.0060},{"p":2,"g":"b","x":0.0200,"y":-0.0066},{"p":2,"g":"b","x":0.0140,"y":-0.0080},{"p":2,"g":"b","x":0.0190,"y":-0.0085},{"p":2,"g":"b","x":0.0250,"y":-0.0072}
]},
"vconcat":[
{"width":558,"height":382,
"encoding":{"x":{"field":"x","type":"quantitative","scale":{"domain":[-0.2635,0.0315],"nice":false,"zero":false},"axis":{"title":"1er Componente LDA","values":[-0.25,-0.2,-0.15,-0.1,-0.05,0],"labelExpr":"''+datum.value"}},
"y":{"field":"y","type":"quantitative","scale":{"domain":[-0.0329,0.0331],"nice":false,"zero":false},"axis":{"title":"2do Componente LDA","values":[-0.03,-0.02,-0.01,0,0.01,0.02,0.03],"labelExpr":"''+datum.value"}}},
"layer":[
{"data":{"name":"reg"},"transform":[{"filter":"datum.p==1&&datum.r=='b'"}],"mark":{"type":"area","orient":"vertical","fill":"#8d8dea","clip":true},"encoding":{"y2":{"field":"y2"}}},
{"data":{"name":"reg"},"transform":[{"filter":"datum.p==1&&datum.r=='r'"}],"mark":{"type":"area","orient":"vertical","fill":"#f7a0a0","clip":true},"encoding":{"y2":{"field":"y2"}}},
{"data":{"name":"reg"},"transform":[{"filter":"datum.p==1&&datum.r=='m'"}],"mark":{"type":"area","orient":"vertical","fill":"#f59cf5","clip":true},"encoding":{"y2":{"field":"y2"}}},
{"data":{"name":"reg"},"transform":[{"filter":"datum.p==1&&datum.r=='g'"}],"mark":{"type":"area","orient":"vertical","fill":"#a8f5a8","clip":true},"encoding":{"y2":{"field":"y2"}}},
{"data":{"name":"pts"},"transform":[{"filter":"datum.p==1&&datum.g=='r'"}],"mark":{"type":"point","shape":"circle","filled":true,"color":"#ff0000","size":150,"opacity":1,"clip":true}},
{"data":{"name":"pts"},"transform":[{"filter":"datum.p==1&&datum.g=='g'"}],"mark":{"type":"point","shape":"square","filled":true,"color":"#00ff00","size":130,"opacity":1,"clip":true}},
{"data":{"name":"pts"},"transform":[{"filter":"datum.p==1&&datum.g=='m'"}],"mark":{"type":"point","shape":"M-1,0L1,0M0,-1L0,1M-0.7,-0.7L0.7,0.7M-0.7,0.7L0.7,-0.7","filled":false,"color":"#ff00ff","strokeWidth":1.7,"size":200,"opacity":1,"clip":true}},
{"data":{"name":"pts"},"transform":[{"filter":"datum.p==1&&datum.g=='b'"}],"mark":{"type":"point","shape":"triangle-up","filled":false,"color":"#0000ff","strokeWidth":2.2,"size":130,"opacity":1,"clip":true}}
]},
{"width":558,"height":382,
"encoding":{"x":{"field":"x","type":"quantitative","scale":{"domain":[-0.2635,0.0315],"nice":false,"zero":false},"axis":{"title":"1er Componente LDA","values":[-0.25,-0.2,-0.15,-0.1,-0.05,0],"labelExpr":"''+datum.value"}},
"y":{"field":"y","type":"quantitative","scale":{"domain":[-0.0329,0.0331],"nice":false,"zero":false},"axis":{"title":"2do Componente LDA","values":[-0.03,-0.02,-0.01,0,0.01,0.02,0.03],"labelExpr":"''+datum.value"}}},
"layer":[
{"data":{"name":"reg"},"transform":[{"filter":"datum.p==2&&datum.r=='b'"}],"mark":{"type":"area","orient":"vertical","fill":"#8d8dea","clip":true},"encoding":{"y2":{"field":"y2"}}},
{"data":{"name":"reg"},"transform":[{"filter":"datum.p==2&&datum.r=='r'"}],"mark":{"type":"area","orient":"vertical","fill":"#f7a0a0","clip":true},"encoding":{"y2":{"field":"y2"}}},
{"data":{"name":"reg"},"transform":[{"filter":"datum.p==2&&datum.r=='m'"}],"mark":{"type":"area","orient":"vertical","fill":"#f59cf5","clip":true},"encoding":{"y2":{"field":"y2"}}},
{"data":{"name":"reg"},"transform":[{"filter":"datum.p==2&&datum.r=='g'"}],"mark":{"type":"area","orient":"vertical","fill":"#a8f5a8","clip":true},"encoding":{"y2":{"field":"y2"}}},
{"data":{"name":"pts"},"transform":[{"filter":"datum.p==2&&datum.g=='r'"}],"mark":{"type":"point","shape":"circle","filled":true,"color":"#ff0000","size":150,"opacity":1,"clip":true}},
{"data":{"name":"pts"},"transform":[{"filter":"datum.p==2&&datum.g=='g'"}],"mark":{"type":"point","shape":"square","filled":true,"color":"#00ff00","size":130,"opacity":1,"clip":true}},
{"data":{"name":"pts"},"transform":[{"filter":"datum.p==2&&datum.g=='m'"}],"mark":{"type":"point","shape":"M-1,0L1,0M0,-1L0,1M-0.7,-0.7L0.7,0.7M-0.7,0.7L0.7,-0.7","filled":false,"color":"#ff00ff","strokeWidth":1.7,"size":200,"opacity":1,"clip":true}},
{"data":{"name":"pts"},"transform":[{"filter":"datum.p==2&&datum.g=='b'"}],"mark":{"type":"point","shape":"triangle-up","filled":false,"color":"#0000ff","strokeWidth":2.2,"size":130,"opacity":1,"clip":true}}
]}
]}
